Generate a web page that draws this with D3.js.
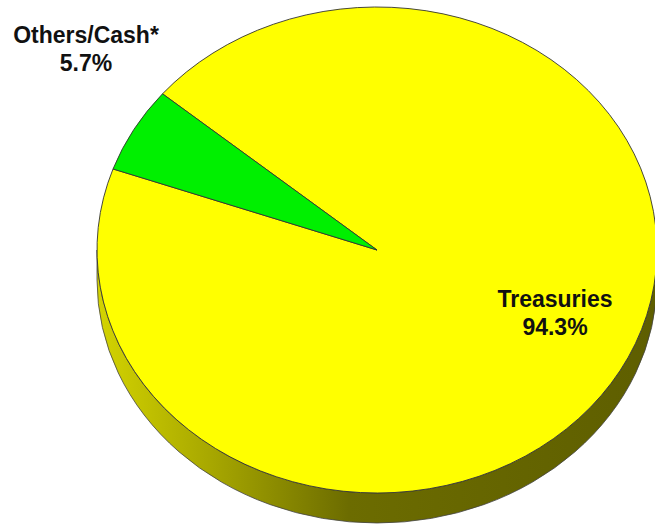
<!DOCTYPE html>
<html>
<head>
<meta charset="utf-8">
<script src="https://cdn.jsdelivr.net/npm/d3@7"></script>
<style>
  body { margin: 0; background: #fff; }
  text { font-family: "Liberation Sans", Arial, sans-serif; font-weight: bold; fill: #111; }
</style>
</head>
<body>
<svg id="chart"></svg>
<script>
// data
const labels = ["Treasuries", "Others/Cash*"];
const shares = [94.3, 5.7];
const colors = ["#ffff00", "#00f000"];

const W = 655, H = 525;
const cx = 377, cy = 250;   // pie centre
const rx = 280, ry = 243;   // tilted pie -> ellipse
const depth = 30;

let svg = d3.select('#chart').attr('width', W).attr('height', H);

let defs = svg.append('defs');
let grad = defs.append('linearGradient').attr('id', 'side')
    .attr('gradientUnits', 'userSpaceOnUse')
    .attr('x1', cx - rx).attr('x2', cx + rx).attr('y1', 0).attr('y2', 0);
grad.append('stop').attr('offset', 0).attr('stop-color', '#d4d400');
grad.append('stop').attr('offset', 0.2).attr('stop-color', '#a8a800');
grad.append('stop').attr('offset', 0.45).attr('stop-color', '#6c6c00');
grad.append('stop').attr('offset', 1).attr('stop-color', '#5e5e00');

// side wall: lower half of top ellipse + lower half shifted down
let sidePath = `M${cx - rx},${cy} L${cx - rx},${cy + depth} ` +
    `A${rx},${ry} 0 0 0 ${cx + rx},${cy + depth} L${cx + rx},${cy} ` +
    `A${rx},${ry} 0 0 1 ${cx - rx},${cy} Z`;
svg.append('path')
    .attr('d', sidePath)
    .attr('fill', 'url(#side)')
    .attr('stroke', '#444').attr('stroke-width', 0.8);

// top face
let pie = d3.pie().sort(null)
    .startAngle(-50 * Math.PI / 180)
    .endAngle(310 * Math.PI / 180);
let arc = d3.arc().innerRadius(0).outerRadius(rx);

let face = svg.append('g')
    .attr('transform', `translate(${cx},${cy}) scale(1,${ry / rx})`);
face.selectAll('path')
    .data(pie(shares)).enter().append('path')
    .attr('d', arc)
    .attr('fill', (d, i) => colors[i])
    .attr('stroke', '#333').attr('stroke-width', 0.9)
    .attr('vector-effect', 'non-scaling-stroke');

// labels
let labelPos = [[555, 307], [86, 43]];
labels.forEach((name, i) => {
    let t = svg.append('text')
        .attr('text-anchor', 'middle')
        .attr('font-size', 23)
        .attr('x', labelPos[i][0]).attr('y', labelPos[i][1]);
    t.append('tspan').text(name);
    t.append('tspan').attr('x', labelPos[i][0]).attr('dy', 28)
        .text(shares[i].toFixed(1) + '%');
});
</script>
</body>
</html>
